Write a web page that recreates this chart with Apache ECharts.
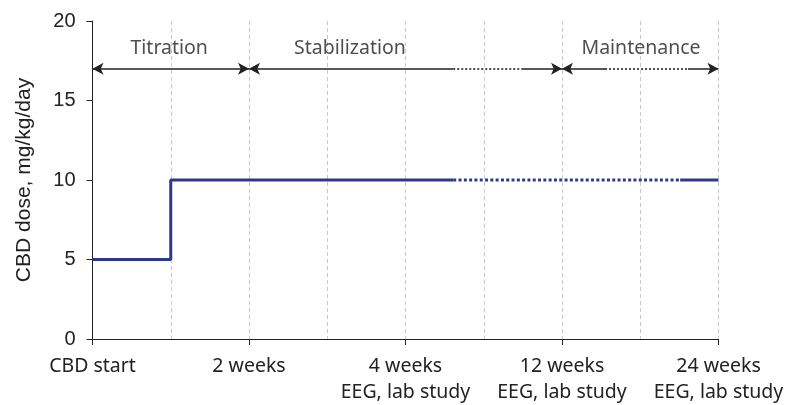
<!DOCTYPE html>
<html>
<head>
<meta charset="utf-8">
<script src="https://cdn.jsdelivr.net/npm/echarts@6/dist/echarts.min.js"></script>
<style>html,body{margin:0;padding:0;background:#fff}#c{width:802px;height:405px}</style>
</head>
<body>
<div id="c"></div>
<script>
// ---- data ----
var xTickValues = [0, 2, 4, 6, 8];
var xTickLabels = ['CBD start', '2 weeks', '4 weeks\nEEG, lab study', '12 weeks\nEEG, lab study', '24 weeks\nEEG, lab study'];
var yTicks = [0, 5, 10, 15, 20];
// dose line pieces [x, dose]
var doseSolid1 = [[0, 5], [1, 5], [1, 10], [4.61, 10]];
var doseDotted = [[4.61, 10], [7.51, 10]];
var doseSolid2 = [[7.51, 10], [8, 10]];
// phase arrows: [start, end, dottedStart, dottedEnd] (null = fully solid)
var phaseNames = ['Titration', 'Stabilization', 'Maintenance'];
var phaseStart = [0, 2, 6];
var phaseEnd = [2, 6, 8];
var phaseDotFrom = [null, 4.61, 6.55];
var phaseDotTo = [null, 5.48, 7.61];
var phaseArrowY = 17;
var phaseLabelX = [0.98, 3.29, 7.01];
var phaseLabelY = 18.3;

var FONT = 'Noto Sans';
var NUMFONT = 'Liberation Sans';
var TXT = '#222';
var BLUE = '#2d3a8c';

// build arrow markLine segments
var arrowSegs = [];
var solidStyle = {type: 'solid', color: '#222', width: 1.5};
var dotStyle = {type: [2, 2], color: '#222', width: 1.6};
var HEAD = [9, 11];
for (var i = 0; i < phaseNames.length; i++) {
  var s = phaseStart[i], e = phaseEnd[i];
  if (phaseDotFrom[i] === null) {
    arrowSegs.push([{coord: [s, phaseArrowY], symbol: 'arrow', symbolSize: HEAD},
                    {coord: [e, phaseArrowY], symbol: 'arrow', symbolSize: HEAD, lineStyle: solidStyle}]);
  } else {
    arrowSegs.push([{coord: [s, phaseArrowY], symbol: 'arrow', symbolSize: HEAD},
                    {coord: [phaseDotFrom[i], phaseArrowY], symbol: 'none', lineStyle: solidStyle}]);
    arrowSegs.push([{coord: [phaseDotFrom[i], phaseArrowY], symbol: 'none'},
                    {coord: [phaseDotTo[i], phaseArrowY], symbol: 'none', lineStyle: dotStyle}]);
    arrowSegs.push([{coord: [phaseDotTo[i], phaseArrowY], symbol: 'none'},
                    {coord: [e, phaseArrowY], symbol: 'arrow', symbolSize: HEAD, lineStyle: solidStyle}]);
  }
}
arrowSegs.forEach(function (seg) { seg[0].lineStyle = seg[1].lineStyle; });

var labelData = phaseNames.map(function (n, i) { return {name: n, value: [phaseLabelX[i], phaseLabelY]}; });

var chart = echarts.init(document.getElementById('c'), null, {renderer: 'canvas'});
chart.setOption({
  animation: false,
  grid: {left: 92.5, right: 83.5, top: 21, bottom: 64, containLabel: false},
  xAxis: {
    type: 'value', min: 0, max: 8, interval: 2,
    axisLine: {show: true, lineStyle: {color: '#222', width: 1}},
    axisTick: {show: true, length: 6, lineStyle: {color: '#222'}},
    axisLabel: {
      margin: 14, fontFamily: FONT, fontSize: 19.5, color: TXT, lineHeight: 26,
      formatter: function (v) { var k = xTickValues.indexOf(v); return k >= 0 ? xTickLabels[k] : ''; }
    },
    splitLine: {show: true, lineStyle: {color: '#c8c8c8', type: [4, 3], width: 1}},
    minorTick: {show: false, splitNumber: 2},
    minorSplitLine: {show: true, lineStyle: {color: '#c8c8c8', type: [4, 3], width: 1}}
  },
  yAxis: {
    type: 'value', min: 0, max: 20, interval: 5,
    name: 'CBD dose, mg/kg/day', nameLocation: 'middle', nameGap: 58,
    nameTextStyle: {fontFamily: NUMFONT, fontSize: 21, color: TXT},
    axisLine: {show: true, lineStyle: {color: '#222', width: 1}},
    axisTick: {show: true, length: 6, lineStyle: {color: '#222'}},
    axisLabel: {margin: 17, fontFamily: NUMFONT, fontSize: 20, color: TXT,
      formatter: function (v) { return yTicks.indexOf(v) >= 0 ? String(v) : ''; }},
    splitLine: {show: false}
  },
  series: [
    {type: 'line', data: doseSolid1, symbol: 'none', silent: true,
     lineStyle: {color: BLUE, width: 3, type: 'solid'}, z: 5,
     markLine: {silent: true, animation: false, label: {show: false}, data: arrowSegs}},
    {type: 'line', data: doseDotted, symbol: 'none', silent: true,
     lineStyle: {color: BLUE, width: 3, type: [3, 2.3], cap: 'butt'}, z: 5},
    {type: 'line', data: doseSolid2, symbol: 'none', silent: true,
     lineStyle: {color: BLUE, width: 3, type: 'solid'}, z: 5},
    {type: 'scatter', data: labelData, symbolSize: 0, silent: true,
     label: {show: true, position: 'inside', formatter: '{b}', fontFamily: FONT, fontSize: 19.5, color: TXT}}
  ]
});
</script>
</body>
</html>
